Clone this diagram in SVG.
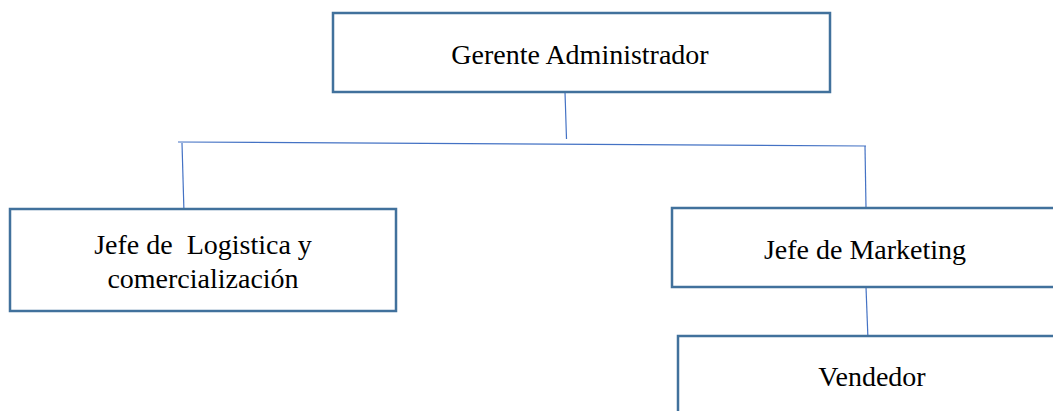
<svg xmlns="http://www.w3.org/2000/svg" width="1053" height="411" viewBox="0 0 1053 411">
<style>
.box{fill:#fff;stroke:#41719C;stroke-width:2.5}
.lbl{font-family:"Liberation Serif","Times New Roman",serif;font-size:28px;fill:#000;text-anchor:middle}
.con{fill:none;stroke:#4472C4;stroke-width:1.2}
</style>
<rect width="1053" height="411" fill="#fff"/>
<g id="connectors">
<line class="con" x1="565" y1="92" x2="566.5" y2="139"/>
<line class="con" x1="178" y1="142" x2="866" y2="146"/>
<line class="con" x1="182" y1="143" x2="184" y2="213"/>
<line class="con" x1="865" y1="146" x2="866" y2="208"/>
<line class="con" x1="866" y1="287" x2="868" y2="340"/>
</g>
<g id="gerente">
<rect class="box" x="333" y="13" width="497" height="79"/>
<text class="lbl" x="580" y="64">Gerente Administrador</text>
</g>
<g id="logistica">
<rect class="box" x="10" y="209" width="386" height="102"/>
<text class="lbl" x="203" y="254" xml:space="preserve">Jefe de  Logistica y</text>
<text class="lbl" x="203" y="288">comercialización</text>
</g>
<g id="marketing">
<rect class="box" x="672" y="208" width="395" height="79"/>
<text class="lbl" x="865" y="259">Jefe de Marketing</text>
</g>
<g id="vendedor">
<rect class="box" x="678" y="336" width="390" height="90"/>
<text class="lbl" x="872" y="386">Vendedor</text>
</g>
</svg>
